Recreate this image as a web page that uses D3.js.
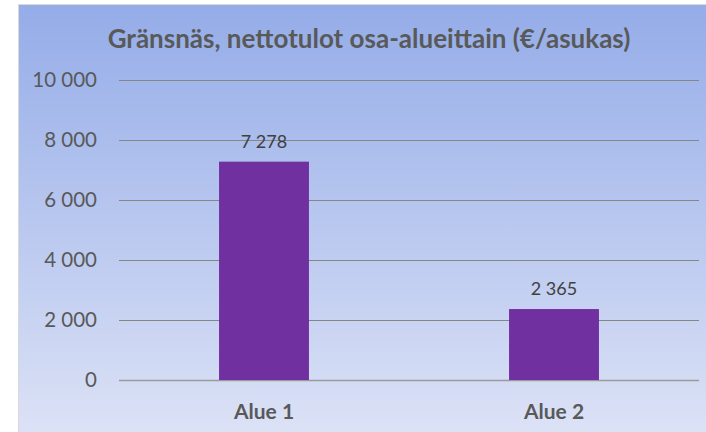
<!DOCTYPE html>
<html>
<head>
<meta charset="utf-8">
<script src="https://cdn.jsdelivr.net/npm/d3@7"></script>
<style>
  html, body { margin: 0; padding: 0; background: #ffffff; }
  svg { display: block; }
</style>
</head>
<body>
<svg id="chart" width="706" height="432"></svg>
<script>
// Net income per resident by sub-area
const categories = ["Alue 1", "Alue 2"];
const values = [7278, 2365];
const tickValues = [0, 2000, 4000, 6000, 8000, 10000];
const titleText = "Gränsnäs,  nettotulot osa-alueittain (€/asukas)";

const W = 706, H = 432;
const svg = d3.select("#chart");
const font = "Lato, 'Open Sans', sans-serif";

// panel background gradient
const defs = svg.append("defs");
const grad = defs.append("linearGradient")
  .attr("id", "bg").attr("x1", 0).attr("y1", 0).attr("x2", 0).attr("y2", 1);
grad.append("stop").attr("offset", "0%").attr("stop-color", "#94ace8");
grad.append("stop").attr("offset", "100%").attr("stop-color", "#dce2f6");

svg.append("rect")
  .attr("x", 18.5).attr("y", 4.5)
  .attr("width", W - 18).attr("height", H - 4)
  .attr("fill", "url(#bg)")
  .attr("stroke", "#d9d9d9").attr("stroke-width", 1);

const margin = { left: 119, right: 7, top: 80, bottom: 52 };
const x = d3.scaleBand()
  .domain(categories)
  .range([margin.left, W - margin.right])
  .paddingInner(0.69)
  .paddingOuter(0.345);
const y = d3.scaleLinear()
  .domain([0, 10000])
  .range([H - margin.bottom, margin.top]);

const fmt = v => d3.format(",")(v).replace(/,/g, " ");

// gridlines and y tick labels
const yAxis = d3.axisLeft(y)
  .tickValues(tickValues)
  .tickSize(-(W - margin.right - margin.left))
  .tickPadding(22)
  .tickFormat(fmt);
const gy = svg.append("g")
  .attr("transform", `translate(${margin.left},0)`)
  .call(yAxis);
gy.select(".domain").remove();
gy.selectAll(".tick line")
  .attr("stroke", d => d === 0 ? "#9a9a9a" : "#868686")
  .attr("stroke-width", d => d === 0 ? 1.5 : 1.2);
gy.selectAll(".tick text")
  .attr("fill", "#595959")
  .attr("font-family", font)
  .attr("font-size", 20.5);

// bars
svg.append("g").selectAll("rect")
  .data(values)
  .join("rect")
  .attr("x", (d, i) => x(categories[i]))
  .attr("y", d => y(d))
  .attr("width", x.bandwidth())
  .attr("height", d => y(0) - y(d))
  .attr("fill", "#7030a0");

// value labels
svg.append("g").selectAll("text")
  .data(values)
  .join("text")
  .attr("x", (d, i) => x(categories[i]) + x.bandwidth() / 2)
  .attr("y", d => y(d) - 14)
  .attr("text-anchor", "middle")
  .attr("fill", "#404040")
  .attr("font-family", font)
  .attr("font-size", 18)
  .text(fmt);

// category labels
const xAxis = d3.axisBottom(x).tickSize(0).tickPadding(24);
const gx = svg.append("g")
  .attr("transform", `translate(0,${y(0)})`)
  .call(xAxis);
gx.select(".domain").remove();
gx.selectAll(".tick text")
  .attr("fill", "#595959")
  .attr("font-family", font)
  .attr("font-weight", "bold")
  .attr("font-size", 21);

// title
svg.append("text")
  .attr("x", 369)
  .attr("y", 48)
  .attr("text-anchor", "middle")
  .attr("fill", "#595959")
  .attr("font-family", font)
  .attr("font-weight", "bold")
  .attr("font-size", 26)
  .text(titleText);
</script>
</body>
</html>
